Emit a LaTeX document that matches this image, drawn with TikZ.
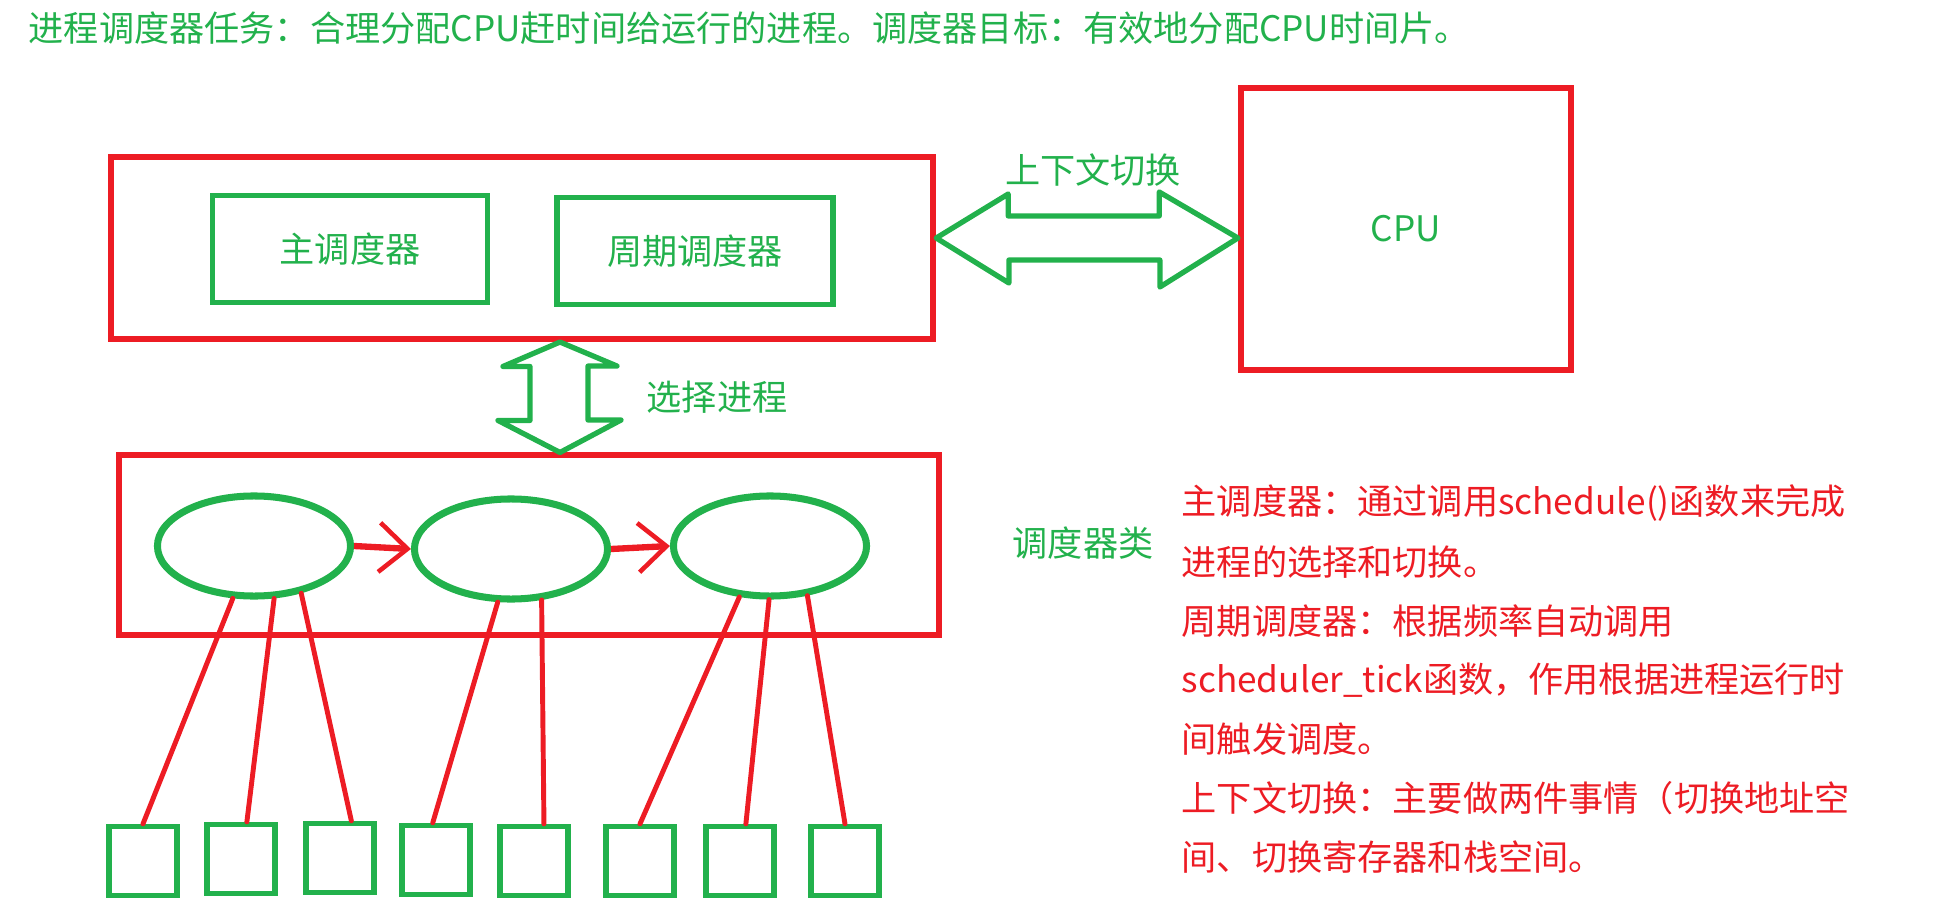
\documentclass[tikz,border=0pt]{standalone}
\usepackage{fontspec}
\setmainfont{Noto Sans CJK SC}
\usetikzlibrary{shapes.geometric,arrows.meta}
\definecolor{pgreen}{HTML}{22B14C}
\definecolor{pred}{HTML}{ED1C24}
\begin{document}
\begin{tikzpicture}[x=0.01cm,y=-0.01cm,
  every node/.style={font=\fontsize{10}{12}\selectfont},
  redbox/.style={draw=pred,line width=1.7pt,inner sep=0pt},
  greenbox/.style={draw=pgreen,line width=1.5pt,text=pgreen,inner sep=0pt},
  proc/.style={ellipse,draw=pgreen,line width=2pt,minimum width=1.93cm,minimum height=1cm,inner sep=0pt},
  task/.style={draw=pgreen,line width=1.5pt,minimum width=0.68cm,minimum height=0.69cm,inner sep=0pt},
  fatarrow/.style={draw=pgreen,line width=1.5pt,line join=round},
  nextarrow/.style={draw=pred,line width=1.8pt,-{Straight Barb[length=8pt,width=14pt,line width=1.3pt]}},
  link/.style={draw=pred,line width=1.4pt,line cap=round},
  greentxt/.style={text=pgreen,inner sep=0pt},
  redtxt/.style={text=pred,inner sep=0pt,anchor=west}]
\useasboundingbox (0,0) rectangle (1944,912);

% Title
\node[greentxt,anchor=west] (title) at (28,28) {进程调度器任务：合理分配CPU赶时间给运行的进程。调度器目标：有效地分配CPU时间片。};

% Scheduler box
\node[redbox,minimum width=8.22cm,minimum height=1.82cm] (sched) at (522,248) {};
\node[greenbox,minimum width=2.75cm,minimum height=1.07cm] (mainsched) at (350,249) {主调度器};
\node[greenbox,minimum width=2.76cm,minimum height=1.07cm] (periodic) at (695,251) {周期调度器};

% CPU
\node[redbox,minimum width=3.3cm,minimum height=2.82cm,text=pgreen] (cpu) at (1406,229) {CPU};

% Context switch
\coordinate (ctxL) at (sched.east |- 0,238);
\coordinate (ctxR) at (cpu.west |- 0,238);
\draw[fatarrow] (ctxL) -- ++(72,-44) -- ++(0,22) -- ++(151,0) -- ++(0,-24)
  -- (ctxR) -- ++(-78,49) -- ++(0,-27) -- ++(-151,0) -- ++(0,23) -- cycle;
\node[greentxt] (ctxlabel) at (1093,170) {上下文切换};

% Scheduler classes
\node[redbox,minimum width=8.2cm,minimum height=1.79cm] (classes) at (529,545) {};
\node[greentxt,anchor=west] (classlabel) at (1012,543) {调度器类};

% Select process
\coordinate (selT) at (sched.south -| 560,0);
\coordinate (selB) at (classes.north -| 560,0);
\draw[fatarrow] (selT) -- ++(57,24) -- ++(-29,0) -- ++(0,54) -- ++(33,0)
  -- (selB) -- ++(-62,-32) -- ++(32,0) -- ++(0,-54) -- ++(-27,0) -- cycle;
\node[greentxt] (sellabel) at (717,397) {选择进程};

% Run queue
\node[proc] (e1) at (254,546) {};
\node[proc] (e2) at (511,549) {};
\node[proc] (e3) at (770,546) {};
\draw[nextarrow] (e1.east) -- (e2.west);
\draw[nextarrow] (e2.east) -- (e3.west);

% Tasks
\foreach \n/\x/\y in {1/143/861,2/241/859,3/340/858,4/436/860,5/534/861,6/640/861,7/740/861,8/845/861}
  \node[task] (t\n) at (\x,\y) {};

% Links
\foreach \p/\a/\t/\b in {e1/248/t1/90,e1/291/t2/81,e1/315/t3/73,e2/256/t4/95,e2/301/t5/75,e3/239/t6/90,e3/269/t7/81,e3/307/t8/90}
  \draw[link] (\p.\a) -- (\t.\b);

% Notes
\foreach \txt [count=\i from 0] in {{主调度器：通过调用schedule()函数来完成},{进程的选择和切换。},{周期调度器：根据频率自动调用},{scheduler\_tick函数，作用根据进程运行时},{间触发调度。},{上下文切换：主要做两件事情（切换地址空},{间、切换寄存器和栈空间。}}
  \node[redtxt] (note\i) at (1181,{503+59*\i}) {\txt};
\end{tikzpicture}
\end{document}
